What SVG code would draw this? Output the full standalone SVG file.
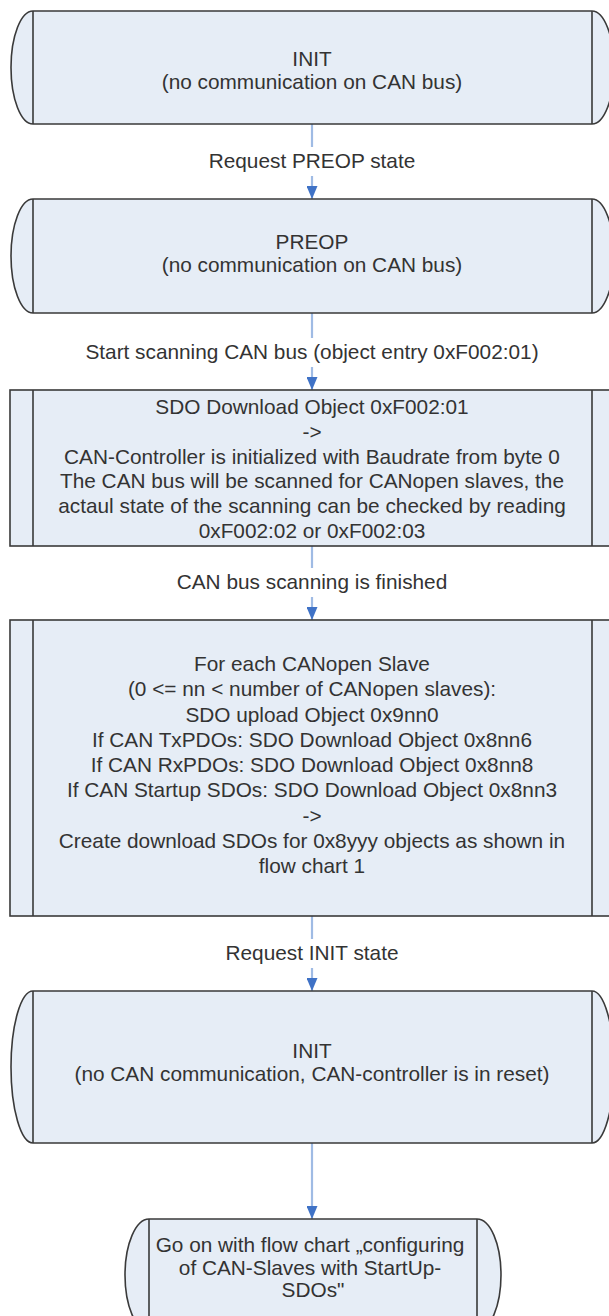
<svg xmlns="http://www.w3.org/2000/svg" width="609" height="1316" viewBox="0 0 609 1316">
<defs>
<style>
.box{fill:#e6edf6;stroke:#3a3a3a;stroke-width:1.6}
.inner{stroke:#3a3a3a;stroke-width:1.6;fill:none}
.t{font-family:"Liberation Sans",Arial,sans-serif;font-size:20.8px;fill:#333;text-anchor:middle}
.c{stroke:#9fbbe4;stroke-width:2.2;fill:none}
</style>
<marker id="ah" viewBox="0 0 13 11" refX="13" refY="5.5" markerWidth="13" markerHeight="11" markerUnits="userSpaceOnUse" orient="auto">
<path d="M0,0 L13,5.5 L0,11 z" fill="#3f72c6"/>
</marker>
</defs>
<rect width="609" height="1316" fill="#fff"/>

<g id="connectors">
<line class="c" x1="312" y1="124" x2="312" y2="147"/>
<line class="c" x1="312" y1="176" x2="312" y2="199" marker-end="url(#ah)"/>
<line class="c" x1="312" y1="313" x2="312" y2="338"/>
<line class="c" x1="312" y1="367" x2="312" y2="390" marker-end="url(#ah)"/>
<line class="c" x1="312" y1="546" x2="312" y2="568"/>
<line class="c" x1="312" y1="597" x2="312" y2="620" marker-end="url(#ah)"/>
<line class="c" x1="312" y1="916" x2="312" y2="939"/>
<line class="c" x1="312" y1="968" x2="312" y2="991" marker-end="url(#ah)"/>
<line class="c" x1="312" y1="1143" x2="312" y2="1219" marker-end="url(#ah)"/>
<text class="t" x="312" y="168">Request PREOP state</text>
<text class="t" x="312" y="359">Start scanning CAN bus (object entry 0xF002:01)</text>
<text class="t" x="312" y="589">CAN bus scanning is finished</text>
<text class="t" x="312" y="960">Request INIT state</text>
</g>

<g id="init1">
<path class="box" d="M33,11 H592 A22,56.5 0 0 1 592,124 H33 A22,56.5 0 0 1 33,11 Z"/>
<path class="inner" d="M33,11 V124 M592,11 V124"/>
<text class="t" x="312" y="66">INIT</text>
<text class="t" x="312" y="89">(no communication on CAN bus)</text>
</g>

<g id="preop">
<path class="box" d="M33,199 H592 A22,57 0 0 1 592,313 H33 A22,57 0 0 1 33,199 Z"/>
<path class="inner" d="M33,199 V313 M592,199 V313"/>
<text class="t" x="312" y="249">PREOP</text>
<text class="t" x="312" y="272">(no communication on CAN bus)</text>
</g>

<g id="scan">
<rect class="box" x="10" y="390" width="604" height="156"/>
<path class="inner" d="M33,390 V546 M592,390 V546"/>
<text class="t" x="312" y="414">SDO Download Object 0xF002:01</text>
<text class="t" x="312" y="438.8">-&gt;</text>
<text class="t" x="312" y="463.6">CAN-Controller is initialized with Baudrate from byte 0</text>
<text class="t" x="312" y="488.4">The CAN bus will be scanned for CANopen slaves, the</text>
<text class="t" x="312" y="513.2">actaul state of the scanning can be checked by reading</text>
<text class="t" x="312" y="538">0xF002:02 or 0xF002:03</text>
</g>

<g id="slaves">
<rect class="box" x="10" y="620" width="604" height="296"/>
<path class="inner" d="M33,620 V916 M592,620 V916"/>
<text class="t" x="312" y="671">For each CANopen Slave</text>
<text class="t" x="312" y="696.25">(0 &lt;= nn &lt; number of CANopen slaves):</text>
<text class="t" x="312" y="721.5">SDO upload Object 0x9nn0</text>
<text class="t" x="312" y="746.75">If CAN TxPDOs: SDO Download Object 0x8nn6</text>
<text class="t" x="312" y="772">If CAN RxPDOs: SDO Download Object 0x8nn8</text>
<text class="t" x="312" y="797.25">If CAN Startup SDOs: SDO Download Object 0x8nn3</text>
<text class="t" x="312" y="822.5">-&gt;</text>
<text class="t" x="312" y="847.75">Create download SDOs for 0x8yyy objects as shown in</text>
<text class="t" x="312" y="873">flow chart 1</text>
</g>

<g id="init2">
<path class="box" d="M33,991 H592 A22,76 0 0 1 592,1143 H33 A22,76 0 0 1 33,991 Z"/>
<path class="inner" d="M33,991 V1143 M592,991 V1143"/>
<text class="t" x="312" y="1058">INIT</text>
<text class="t" x="312" y="1081">(no CAN communication, CAN-controller is in reset)</text>
</g>

<g id="goon">
<path class="box" d="M149,1219 H477 A24,56 0 0 1 477,1331 H149 A24,56 0 0 1 149,1219 Z"/>
<path class="inner" d="M149,1219 V1331 M477,1219 V1331"/>
<text class="t" x="310" y="1252">Go on with flow chart „configuring</text>
<text class="t" x="310" y="1274.5">of CAN-Slaves with StartUp-</text>
<text class="t" x="313" y="1297">SDOs"</text>
</g>
</svg>
